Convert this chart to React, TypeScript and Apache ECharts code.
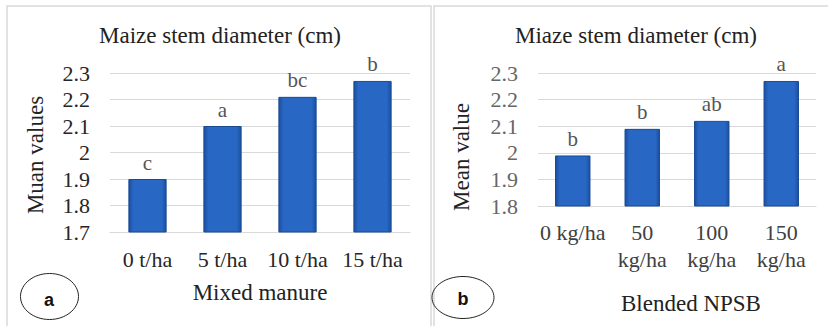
import React, { useEffect, useRef } from "react";
import * as echarts from "echarts";

const catsA = ["0 t/ha", "5 t/ha", "10 t/ha", "15 t/ha"];
const valsA = [1.9, 2.1, 2.21, 2.27];
const lettersA = ["c", "a", "bc", "b"];

const catsB = ["0 kg/ha", "50\nkg/ha", "100\nkg/ha", "150\nkg/ha"];
const valsB = [1.99, 2.09, 2.12, 2.27];
const lettersB = ["b", "b", "ab", "a"];

const SERIF = "Liberation Serif";
const SANS = "Liberation Sans";

export default function App() {
  const ref = useRef<HTMLDivElement>(null);
  useEffect(() => {
    if (!ref.current) return;
    const chart = echarts.init(ref.current, undefined, { renderer: "svg" });
    const barColor = new echarts.graphic.LinearGradient(0, 0, 1, 0, [
      { offset: 0, color: "#1a4f9f" },
      { offset: 0.12, color: "#2967c4" },
      { offset: 0.88, color: "#2967c4" },
      { offset: 1, color: "#1a4f9f" },
    ]);
    const grid = "#d9d9d9";
    const mkX = (idx: number, data: string[], color: string) => ({
      type: "category",
      gridIndex: idx,
      data,
      axisTick: { show: false },
      axisLine: { show: true, lineStyle: { color: grid, width: 1 } },
      axisLabel: {
        fontFamily: SERIF,
        fontSize: 22,
        color,
        lineHeight: 27,
        margin: idx === 0 ? 14 : 13,
        interval: 0,
      },
    });
    const mkY = (idx: number, min: number, color: string) => ({
      type: "value",
      gridIndex: idx,
      min,
      max: 2.3,
      interval: 0.1,
      axisLine: { show: false },
      axisTick: { show: false },
      splitLine: { lineStyle: { color: grid, width: 1 } },
      axisLabel: {
        fontFamily: SERIF,
        fontSize: 22,
        color,
        margin: 20,
        formatter: (v: number) => String(Math.round(v * 10) / 10),
      },
    });
    const mkSeries = (idx: number, vals: number[], letters: string[]) => ({
      type: "bar",
      xAxisIndex: idx,
      yAxisIndex: idx,
      data: vals,
      barWidth: "51%",
      itemStyle: { color: barColor, borderColor: "#1a4b92", borderWidth: 1 },
      label: {
        show: true,
        position: "top",
        distance: 6,
        fontFamily: SERIF,
        fontSize: 21,
        color: "#555555",
        formatter: (p: any) => letters[p.dataIndex],
      },
    });
    const txt = (
      x: number,
      y: number,
      text: string,
      size: number,
      fill: string,
      rotation = 0,
      family = SERIF,
      bold = false
    ) => {
      const style: any = {
        text,
        fontFamily: family,
        fontSize: size,
        fill,
        align: "center",
        verticalAlign: "middle",
      };
      if (bold) style.fontWeight = "bold";
      return { type: "text", x, y, rotation, style };
    };
    chart.setOption({
      animation: false,
      backgroundColor: "#ffffff",
      grid: [
        { left: 110, top: 73, width: 300, height: 159 },
        { left: 538, top: 73, width: 278, height: 133 },
      ],
      xAxis: [mkX(0, catsA, "#262626"), mkX(1, catsB, "#404040")],
      yAxis: [mkY(0, 1.7, "#262626"), mkY(1, 1.8, "#666666")],
      series: [mkSeries(0, valsA, lettersA), mkSeries(1, valsB, lettersB)],
      graphic: [
        {
          type: "rect",
          shape: { x: 7, y: 6, width: 424, height: 340 },
          style: { fill: "none", stroke: "#d9d9d9", lineWidth: 1.5 },
          silent: true,
        },
        {
          type: "rect",
          shape: { x: 434, y: 6, width: 420, height: 340 },
          style: { fill: "none", stroke: "#d9d9d9", lineWidth: 1.5 },
          silent: true,
        },
        txt(220, 35, "Maize stem diameter (cm)", 23, "#222222"),
        txt(636, 35, "Miaze stem diameter (cm)", 23, "#222222"),
        txt(35, 155, "Muan values", 23, "#222222", Math.PI / 2),
        txt(461, 157, "Mean value", 23, "#222222", Math.PI / 2),
        txt(260, 292, "Mixed manure", 23, "#222222"),
        txt(691, 303, "Blended NPSB", 23, "#222222"),
        {
          type: "ellipse",
          shape: { cx: 49.5, cy: 296.5, rx: 29, ry: 23 },
          style: { fill: "none", stroke: "#222222", lineWidth: 1 },
        },
        {
          type: "ellipse",
          shape: { cx: 463, cy: 297.5, rx: 31, ry: 21 },
          style: { fill: "none", stroke: "#222222", lineWidth: 1 },
        },
        txt(49, 300, "a", 18, "#111111", 0, SANS, true),
        txt(463, 299, "b", 18, "#111111", 0, SANS, true),
      ],
    });
    return () => chart.dispose();
  }, []);
  return (
    <div
      ref={ref}
      style={{ position: "fixed", left: 0, top: 0, width: 828, height: 326 }}
    />
  );
}
